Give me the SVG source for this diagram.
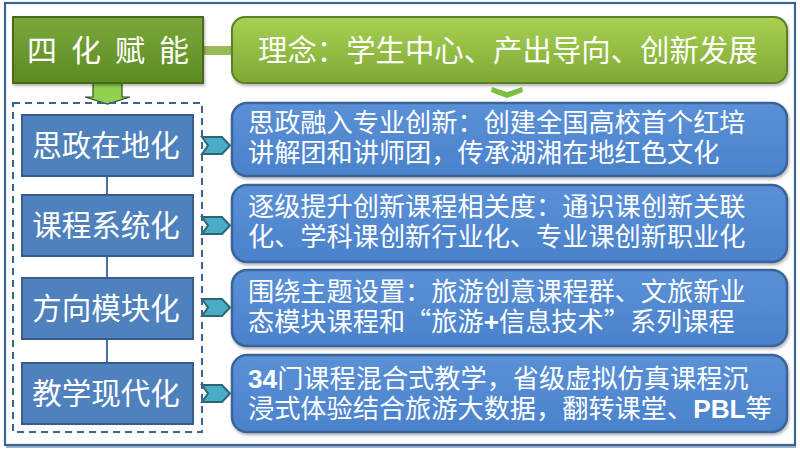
<svg xmlns="http://www.w3.org/2000/svg" width="800" height="453" viewBox="0 0 800 453">
<defs>
<linearGradient id="gDark" x1="0" y1="0" x2="0" y2="1"><stop offset="0" stop-color="#7aa83a"/><stop offset="1" stop-color="#5c8a22"/></linearGradient>
<linearGradient id="gLight" x1="0" y1="0" x2="0" y2="1"><stop offset="0" stop-color="#a8d052"/><stop offset="1" stop-color="#7ea934"/></linearGradient>
<linearGradient id="gBlue" x1="0" y1="0" x2="0" y2="1"><stop offset="0" stop-color="#5a90d6"/><stop offset="1" stop-color="#4a82cc"/></linearGradient>
<filter id="sh" x="-10%" y="-10%" width="120%" height="130%"><feDropShadow dx="1" dy="2" stdDeviation="1.5" flood-color="#000" flood-opacity="0.3"/></filter>
</defs>
<style>
.cn{font-family:"Noto Sans CJK SC","Noto Sans",sans-serif;fill:#fff}
.lb{fill:#4f81bd;stroke:#385d8a;stroke-width:2}
.rb{fill:url(#gBlue);stroke:#3a6497;stroke-width:2.5}
.chev{fill:#4bacc6;stroke:#2e6577;stroke-width:2}
.lt{font-size:29.5px;text-anchor:middle}
.rt{font-size:26.2px}
.b{font-family:"Liberation Sans",Arial,sans-serif;font-weight:bold}
</style>
<rect x="5" y="3" width="790" height="442" fill="#fff" stroke="#3a6593" stroke-width="2.2"/>
<line x1="6" y1="447" x2="796" y2="447" stroke="#3a6593" stroke-width="1"/>
<g id="connectors">
<rect x="203" y="46" width="30" height="9" fill="#9bbb59"/>
<path d="M93,83 H122 V97 H130 L107.5,104 L85,97 H93 Z" fill="#92d050" stroke="#3b4a20" stroke-width="1.2"/>
<path d="M492,87 L507,92 L522,87 L523,92 L507,98 L491,92 Z" fill="#7bc043"/>
<line x1="107" y1="176" x2="107" y2="363" stroke="#4472a8" stroke-width="2"/>
<path class="chev" d="M202,137 H222 L230,145.5 L222,154 H202 L208,145.5 Z"/>
<path class="chev" d="M202,217 H222 L230,225.5 L222,234 H202 L208,225.5 Z"/>
<path class="chev" d="M202,299 H222 L230,307.5 L222,316 H202 L208,307.5 Z"/>
<path class="chev" d="M202,385 H222 L230,393.5 L222,402 H202 L208,393.5 Z"/>
</g>
<rect x="13" y="103" width="189" height="329" fill="none" stroke="#3a6593" stroke-width="2" stroke-dasharray="7,5"/>
<g id="n-sihua">
<rect x="13" y="17" width="190" height="66" fill="url(#gDark)" stroke="#4a6b1e" stroke-width="2" filter="url(#sh)"/>
<text class="cn" x="27" y="61" font-size="30" letter-spacing="14">四化赋能</text>
</g>
<g id="n-linian">
<rect x="232" y="17" width="555" height="66" rx="13" fill="url(#gLight)" stroke="#5e7d2a" stroke-width="2" filter="url(#sh)"/>
<text class="cn" x="258" y="61" font-size="29.4">理念：学生中心、产出导向、创新发展</text>
</g>
<g id="n-l1"><rect class="lb" x="22" y="115" width="171" height="61"/><text class="cn lt" x="106" y="156">思政在地化</text></g>
<g id="n-l2"><rect class="lb" x="22" y="195" width="171" height="61"/><text class="cn lt" x="106" y="236">课程系统化</text></g>
<g id="n-l3"><rect class="lb" x="22" y="278" width="171" height="61"/><text class="cn lt" x="106" y="319">方向模块化</text></g>
<g id="n-l4"><rect class="lb" x="22" y="363" width="171" height="61"/><text class="cn lt" x="106" y="404">教学现代化</text></g>
<g id="n-r1"><rect class="rb" x="232" y="103" width="555" height="73" rx="15" filter="url(#sh)"/>
<text class="cn rt" x="248" y="132">思政融入专业创新：创建全国高校首个红培<tspan x="248" dy="30">讲解团和讲师团，传承湖湘在地红色文化</tspan></text></g>
<g id="n-r2"><rect class="rb" x="232" y="185" width="555" height="77" rx="15" filter="url(#sh)"/>
<text class="cn rt" x="248" y="216">逐级提升创新课程相关度：通识课创新关联<tspan x="248" dy="30">化、学科课创新行业化、专业课创新职业化</tspan></text></g>
<g id="n-r3"><rect class="rb" x="232" y="270" width="555" height="76" rx="15" filter="url(#sh)"/>
<text class="cn rt" x="248" y="301">围绕主题设置：旅游创意课程群、文旅新业<tspan x="248" dy="30">态模块课程和“旅游<tspan class="b">+</tspan>信息技术”系列课程</tspan></text></g>
<g id="n-r4"><rect class="rb" x="232" y="355" width="555" height="77" rx="15" filter="url(#sh)"/>
<text class="cn rt" x="248" y="388"><tspan class="b">34</tspan>门课程混合式教学，省级虚拟仿真课程沉<tspan x="248" dy="30">浸式体验结合旅游大数据，翻转课堂、<tspan class="b">PBL</tspan>等</tspan></text></g>
</svg>
